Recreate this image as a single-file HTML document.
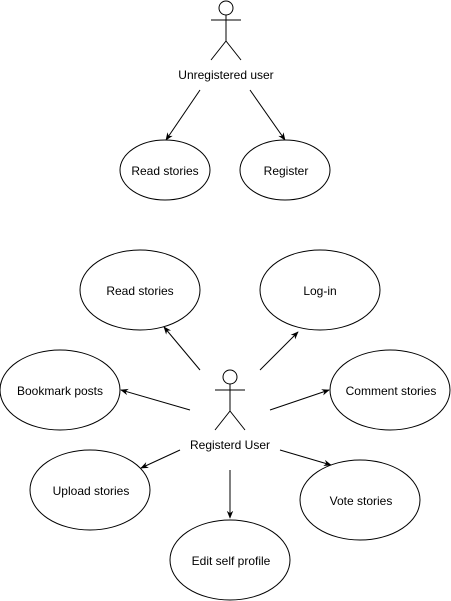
<!DOCTYPE html>
<html><head><style>body{margin:0;background:#fff}svg{display:block}text{font-family:"Liberation Sans",Arial,sans-serif;font-size:12px;fill:#000}</style></head><body>
<svg width="451" height="601" viewBox="0 0 451 601" xmlns="http://www.w3.org/2000/svg">
<defs><marker id="a" viewBox="0 0 10 10" refX="9" refY="5" markerWidth="8" markerHeight="8" orient="auto"><path d="M0,1 L10,5 L0,9 L3,5 Z" fill="#000"/></marker></defs>
<g stroke="#000" fill="none" stroke-width="1">
<circle cx="226" cy="8" r="7"/><path d="M211 20H241M226 15V41M226 41L211 60M226 41L241 60"/>
<circle cx="230" cy="377" r="7"/><path d="M215 390H245M230 384V411M230 411L215 430M230 411L245 430"/>
<ellipse cx="165" cy="170" rx="45" ry="30"/><ellipse cx="285" cy="170" rx="45" ry="30"/>
<ellipse cx="140" cy="290" rx="60" ry="40"/><ellipse cx="320" cy="290" rx="60" ry="40"/>
<ellipse cx="60" cy="390" rx="60" ry="40"/><ellipse cx="390" cy="390" rx="60" ry="40"/>
<ellipse cx="90" cy="490" rx="60" ry="40"/><ellipse cx="360" cy="500" rx="60" ry="40"/>
<ellipse cx="230" cy="560" rx="60" ry="40"/>
<g marker-end="url(#a)">
<path d="M200 90L166 140"/><path d="M250 90L285 140"/>
<path d="M200 370L164 327"/><path d="M260 370L298 332"/>
<path d="M190 410L121 390"/><path d="M270 410L329 390"/>
<path d="M180 450L141 468"/><path d="M280 450L331 465"/>
<path d="M230 470L230 518"/>
</g></g>
<g text-anchor="middle">
<text x="226" y="79">Unregistered user</text>
<text x="165" y="175">Read stories</text><text x="286" y="175">Register</text>
<text x="140" y="295">Read stories</text><text x="320" y="295">Log-in</text>
<text x="60" y="395">Bookmark posts</text><text x="391" y="395">Comment stories</text>
<text x="230" y="449">Registerd User</text>
<text x="91" y="495">Upload stories</text><text x="361" y="505">Vote stories</text>
<text x="231" y="565">Edit self profile</text>
</g>
</svg></body></html>
